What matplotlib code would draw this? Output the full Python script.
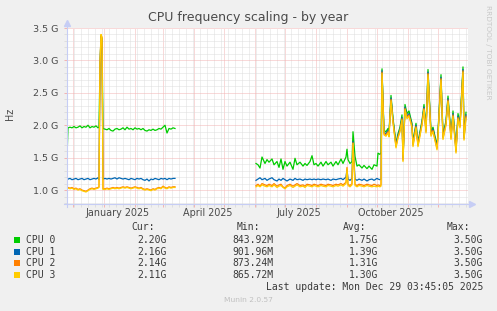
#!/usr/bin/env python3
"""Munin style CPU frequency plot - by year."""
import numpy as np
import pandas as pd
import matplotlib
matplotlib.use("Agg")
import matplotlib.pyplot as plt
import matplotlib.dates as mdates
import matplotlib.ticker as ticker
from matplotlib.patches import Rectangle

START = pd.Timestamp("2024-11-24 12:00")

names = ["CPU 0", "CPU 1", "CPU 2", "CPU 3"]
colors = ["#00CC00", "#0066B3", "#FF8000", "#FFCC00"]
cur_vals = ["2.20G", "2.16G", "2.14G", "2.11G"]
min_vals = ["843.92M", "901.96M", "873.24M", "865.72M"]
avg_vals = ["1.75G", "1.39G", "1.31G", "1.30G"]
max_vals = ["3.50G", "3.50G", "3.50G", "3.50G"]

# first block of data (days since START), values in GHz
days_a = [1, 2, 4, 6, 8, 10, 12, 14, 16, 18,
          20, 22, 24, 26, 28, 30, 32, 33, 34, 35,
          36, 37, 39, 41, 43, 45, 47, 49, 51, 53,
          55, 57, 59, 61, 63, 65, 67, 69, 71, 73,
          75, 77, 79, 81, 83, 85, 87, 89, 91, 93,
          95, 97, 99, 101, 103, 105, 107, 109]
cpu0_a = [1.50, 1.96, 1.97, 1.96, 1.98, 1.96, 1.97, 1.99, 1.96, 1.98,
          1.97, 2.00, 1.96, 1.98, 1.97, 1.99, 1.96, 1.97, 2.90, 3.37,
          3.33, 1.95, 1.94, 1.93, 1.95, 1.92, 1.91, 1.94, 1.95, 1.93,
          1.94, 1.96, 1.93, 1.97, 1.94, 1.95, 1.93, 1.96, 1.94, 1.95,
          1.93, 1.95, 1.92, 1.91, 1.93, 1.92, 1.94, 1.92, 1.93, 1.95,
          1.94, 1.97, 2.00, 1.88, 1.95, 1.94, 1.96, 1.95]
cpu1_a = [1.15, 1.17, 1.18, 1.16, 1.17, 1.18, 1.16, 1.17, 1.18, 1.16,
          1.17, 1.18, 1.16, 1.17, 1.18, 1.17, 1.19, 1.16, 2.90, 3.38,
          3.33, 1.17, 1.18, 1.17, 1.18, 1.17, 1.18, 1.19, 1.17, 1.19,
          1.18, 1.17, 1.18, 1.17, 1.16, 1.18, 1.17, 1.16, 1.18, 1.17,
          1.18, 1.16, 1.15, 1.17, 1.14, 1.17, 1.16, 1.18, 1.17, 1.16,
          1.18, 1.17, 1.18, 1.16, 1.18, 1.17, 1.18, 1.18]
cpu2_a = [1.03, 1.04, 1.03, 1.04, 1.02, 1.03, 1.01, 1.02, 1.00, 0.99,
          0.98, 1.00, 1.02, 1.03, 1.02, 1.03, 1.04, 1.05, 2.92, 3.39,
          3.35, 1.02, 1.02, 1.03, 1.02, 1.03, 1.04, 1.03, 1.04, 1.03,
          1.04, 1.05, 1.04, 1.05, 1.04, 1.03, 1.04, 1.05, 1.04, 1.03,
          1.04, 1.02, 1.01, 1.02, 1.01, 1.00, 1.02, 1.01, 1.03, 1.04,
          1.03, 1.06, 1.04, 1.03, 1.05, 1.04, 1.05, 1.05]
cpu3_a = [1.02, 1.03, 1.02, 1.03, 1.01, 1.02, 1.00, 1.01, 0.99, 0.98,
          0.97, 0.99, 1.01, 1.02, 1.01, 1.02, 1.03, 1.04, 2.95, 3.40,
          3.36, 1.01, 1.01, 1.02, 1.01, 1.02, 1.03, 1.02, 1.03, 1.02,
          1.03, 1.04, 1.03, 1.04, 1.03, 1.02, 1.03, 1.04, 1.03, 1.02,
          1.03, 1.01, 1.00, 1.01, 1.00, 0.99, 1.01, 1.00, 1.02, 1.03,
          1.02, 1.05, 1.03, 1.02, 1.04, 1.03, 1.04, 1.04]

# second block, quiet part
days_b = [190, 192, 194, 196, 199, 201, 203, 206, 208, 211,
          213, 215, 217, 219, 221, 224, 227, 229, 231, 234,
          237, 239, 241, 244, 246, 248, 250, 252, 255, 257,
          260, 262, 265, 267, 270, 272, 275, 277, 280, 281,
          282, 284, 286, 287, 289, 291, 293, 296, 298, 301,
          303, 306, 308, 311, 312, 314, 315]
cpu0_b = [1.41, 1.39, 1.34, 1.51, 1.41, 1.47, 1.43, 1.48, 1.39, 1.44,
          1.35, 1.48, 1.32, 1.44, 1.37, 1.43, 1.32, 1.49, 1.39, 1.43,
          1.37, 1.41, 1.38, 1.44, 1.53, 1.39, 1.41, 1.37, 1.43, 1.37,
          1.44, 1.39, 1.43, 1.37, 1.44, 1.39, 1.48, 1.41, 1.51, 1.63,
          1.47, 1.41, 1.44, 1.90, 1.52, 1.37, 1.39, 1.34, 1.38, 1.33,
          1.37, 1.32, 1.39, 1.37, 1.57, 1.55, 1.58]
cpu1_b = [1.15, 1.17, 1.19, 1.16, 1.18, 1.15, 1.17, 1.19, 1.16, 1.14,
          1.17, 1.15, 1.18, 1.16, 1.14, 1.17, 1.15, 1.18, 1.16, 1.17,
          1.15, 1.17, 1.16, 1.17, 1.16, 1.17, 1.16, 1.17, 1.16, 1.17,
          1.16, 1.17, 1.15, 1.17, 1.16, 1.17, 1.18, 1.16, 1.20, 1.32,
          1.17, 1.15, 1.18, 1.75, 1.17, 1.15, 1.17, 1.15, 1.17, 1.14,
          1.16, 1.17, 1.15, 1.18, 1.17, 1.16, 1.17]
cpu2_b = [1.07, 1.09, 1.06, 1.10, 1.08, 1.07, 1.09, 1.07, 1.10, 1.06,
          1.08, 1.09, 1.05, 1.03, 1.07, 1.09, 1.06, 1.08, 1.10, 1.07,
          1.08, 1.06, 1.09, 1.08, 1.07, 1.09, 1.08, 1.07, 1.09, 1.08,
          1.07, 1.09, 1.08, 1.07, 1.09, 1.08, 1.10, 1.08, 1.12, 1.35,
          1.09, 1.07, 1.10, 1.73, 1.09, 1.07, 1.09, 1.08, 1.07, 1.09,
          1.08, 1.07, 1.09, 1.07, 1.08, 1.07, 1.08]
cpu3_b = [1.05, 1.07, 1.05, 1.08, 1.06, 1.05, 1.07, 1.05, 1.08, 1.04,
          1.06, 1.07, 1.04, 1.02, 1.05, 1.07, 1.04, 1.06, 1.08, 1.05,
          1.06, 1.04, 1.07, 1.06, 1.05, 1.07, 1.06, 1.05, 1.07, 1.06,
          1.05, 1.07, 1.06, 1.05, 1.07, 1.06, 1.08, 1.06, 1.10, 1.33,
          1.07, 1.05, 1.08, 1.72, 1.07, 1.05, 1.07, 1.06, 1.05, 1.07,
          1.06, 1.05, 1.06, 1.05, 1.06, 1.05, 1.06]

# third block, busy part (continues the second)
days_c = [316, 318, 320, 322, 323, 325, 327, 330, 332, 334,
          336, 337, 339, 341, 343, 346, 347, 350, 352, 356,
          358, 360, 362, 365, 367, 371, 372, 375, 377, 380,
          382, 385, 387, 390, 392, 394, 397, 398, 400]
cpu0_c = [2.87, 1.92, 1.90, 1.95, 1.89, 2.46, 2.11, 1.72, 1.87, 1.97,
          2.16, 1.51, 2.32, 2.18, 2.22, 2.03, 1.74, 2.03, 1.74, 2.07,
          2.32, 1.95, 2.86, 1.90, 1.97, 1.69, 1.90, 2.78, 1.85, 2.07,
          2.45, 1.85, 2.22, 1.64, 2.18, 2.03, 2.90, 1.84, 2.20]
cpu1_c = [2.84, 1.89, 1.87, 1.92, 1.86, 2.42, 2.08, 1.69, 1.84, 1.94,
          2.12, 1.48, 2.28, 2.14, 2.18, 2.00, 1.71, 2.00, 1.71, 2.04,
          2.28, 1.92, 2.82, 1.87, 1.94, 1.66, 1.87, 2.74, 1.82, 2.04,
          2.41, 1.82, 2.18, 1.61, 2.14, 2.00, 2.86, 1.81, 2.16]
cpu2_c = [2.82, 1.87, 1.85, 1.90, 1.84, 2.40, 2.06, 1.67, 1.82, 1.92,
          2.10, 1.46, 2.26, 2.12, 2.16, 1.98, 1.69, 1.98, 1.69, 2.02,
          2.26, 1.90, 2.80, 1.85, 1.92, 1.64, 1.85, 2.72, 1.80, 2.02,
          2.39, 1.80, 2.16, 1.59, 2.12, 1.98, 2.84, 1.79, 2.14]
cpu3_c = [2.80, 1.85, 1.83, 1.88, 1.82, 2.38, 2.04, 1.65, 1.80, 1.90,
          2.08, 1.44, 2.24, 2.10, 2.14, 1.96, 1.67, 1.96, 1.67, 2.00,
          2.24, 1.88, 2.78, 1.83, 1.90, 1.62, 1.83, 2.70, 1.78, 2.00,
          2.37, 1.78, 2.14, 1.57, 2.10, 1.96, 2.82, 1.77, 2.11]


def to_dates(d):
    return (START + pd.to_timedelta(np.asarray(d, dtype=float), unit="D")).to_numpy()


W, H = 497, 311
BG = "#F0F0F0"
AXC = "#C6CDF5"
TXT = "#4a4a4a"

fig = plt.figure(figsize=(W / 100, H / 100), dpi=100, facecolor=BG)
ax = fig.add_axes([67 / W, 1 - 204 / H, 401 / W, 176 / H])
ax.set_facecolor("white")

seg_a = [cpu0_a, cpu1_a, cpu2_a, cpu3_a]
seg_b = [cpu0_b + cpu0_c, cpu1_b + cpu1_c, cpu2_b + cpu2_c, cpu3_b + cpu3_c]
xa = to_dates(days_a)
xb = to_dates(days_b + days_c)
for ya, yb, c in zip(seg_a, seg_b, colors):
    ax.plot(xa, ya, color=c, lw=0.9, zorder=3)
    ax.plot(xb, yb, color=c, lw=0.9, zorder=3)

ax.set_xlim(to_dates([1, 402]))
ax.set_ylim(0.785, 3.5)

ax.xaxis.set_major_locator(mdates.MonthLocator())
ax.xaxis.set_minor_locator(mdates.WeekdayLocator(byweekday=mdates.MO))
ax.xaxis.set_major_formatter(ticker.NullFormatter())
ax.yaxis.set_major_locator(ticker.MultipleLocator(0.5))
ax.yaxis.set_minor_locator(ticker.MultipleLocator(0.1))
ax.yaxis.set_major_formatter(ticker.FuncFormatter(lambda v, p: f"{v:.1f} G"))

MAJ = "#F2B4B4"
MIN = "#DEDEDE"
ax.grid(which="major", color=MAJ, ls=(0, (1, 1)), lw=0.72)
ax.grid(which="minor", color=MIN, ls=(0, (1, 1)), lw=0.72)
ax.set_axisbelow(True)
ax.tick_params(which="major", length=2.5, width=0.72, color=MAJ,
               labelsize=6.8, labelcolor=TXT, pad=4)
ax.tick_params(which="minor", length=2, width=0.72, color=MIN)
for s in ax.spines.values():
    s.set_visible(False)

# axis lines with arrows
ax.plot([0, 0], [-3 / 176, 1 + 4 / 176], transform=ax.transAxes,
        color=AXC, lw=0.8, clip_on=False, zorder=4)
ax.plot([-3 / 401, 1 + 3 / 401], [0, 0], transform=ax.transAxes,
        color=AXC, lw=0.8, clip_on=False, zorder=4)
ax.plot([0], [1 + 5 / 176], marker="^", ms=4.5, color=AXC,
        transform=ax.transAxes, clip_on=False, zorder=4)
ax.plot([1 + 4 / 401], [0], marker=">", ms=4.5, color=AXC,
        transform=ax.transAxes, clip_on=False, zorder=4)

# quarter labels in the middle of the month
for d in ["2025-01-15", "2025-04-15", "2025-07-15", "2025-10-15"]:
    t = pd.Timestamp(d)
    ax.text(mdates.date2num(t), -8.7 / 176, t.strftime("%B %Y"),
            transform=ax.get_xaxis_transform(), ha="center", va="center",
            fontsize=6.9, color=TXT)

fig.text(248 / W, 1 - 17 / H, "CPU frequency scaling - by year",
         ha="center", va="center", fontsize=9, color=TXT)
fig.text(10 / W, 1 - 114 / H, "Hz", rotation=90, ha="center", va="center",
         fontsize=6.9, color=TXT)
fig.text(488 / W, 1 - 52 / H, "RRDTOOL / TOBI OETIKER", rotation=270,
         ha="center", va="center", fontsize=5.3, color="#C8C8C8")

# legend
mono = "DejaVu Sans Mono"
LTXT = "#3a3a3a"
heads = ["Cur:", "Min:", "Avg:", "Max:"]
head_x = [154.5, 260, 366, 470]
val_x = [167, 273.5, 378.5, 483]
for hx, h in zip(head_x, heads):
    fig.text(hx / W, 1 - 227.5 / H, h, ha="right", va="center",
             family=mono, fontsize=7, color=LTXT)
rows_y = [240, 251.7, 263.3, 275.3]
for i, (n, c) in enumerate(zip(names, colors)):
    y = rows_y[i]
    fig.add_artist(Rectangle((14 / W, 1 - (y + 3) / H), 6 / W, 6 / H,
                             transform=fig.transFigure, color=c, lw=0))
    fig.text(26 / W, 1 - y / H, n, ha="left", va="center",
             family=mono, fontsize=7, color=LTXT)
    for vx, v in zip(val_x, [cur_vals[i], min_vals[i], avg_vals[i], max_vals[i]]):
        fig.text(vx / W, 1 - y / H, v, ha="right", va="center",
                 family=mono, fontsize=7, color=LTXT)

fig.text(483 / W, 1 - 287.5 / H, "Last update: Mon Dec 29 03:45:05 2025",
         ha="right", va="center", family=mono, fontsize=7, color=LTXT)
fig.text(248 / W, 1 - 300 / H, "Munin 2.0.57", ha="center", va="center",
         fontsize=5.4, color="#C0C0C0")

fig.savefig("out.png", dpi=100, facecolor=BG)
